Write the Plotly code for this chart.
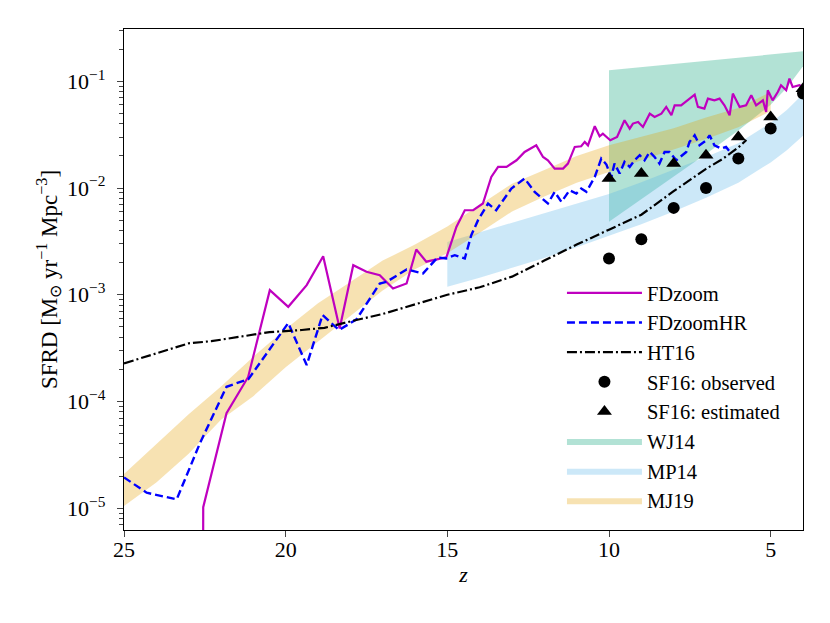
import numpy as np
import plotly.graph_objects as go

# all SFRD values below are log10(SFRD / Msun yr^-1 Mpc^-3)

# FDzoom simulation
fdzoom_z = [22.56, 22.55, 21.83, 21.16, 20.49, 19.92, 19.35, 18.84, 18.33, 17.91,
            17.5, 17.09, 16.68, 16.26, 15.96, 15.65, 15.03, 14.72, 14.46, 14.2,
            13.9, 13.64, 13.43, 13.17, 12.86, 12.61, 12.25, 12.04, 11.89, 11.68,
            11.42, 11.27, 11.06, 10.86, 10.75, 10.65, 10.44, 10.29, 10.19, 9.96,
            9.75, 9.52, 9.36, 9.26, 9.1, 8.95, 8.74, 8.59, 8.38, 8.23,
            8.07, 7.97, 7.77, 7.56, 7.35, 7.25, 7.05, 6.94, 6.74, 6.58,
            6.43, 6.27, 6.17, 5.96, 5.76, 5.6, 5.45, 5.24, 5.14, 5.09,
            4.94, 4.78, 4.68, 4.52, 4.42, 4.32, 4.11, 4.0]
fdzoom_log = [-7.0, -4.99, -4.11, -3.77, -2.957, -3.113, -2.91, -2.639, -3.316, -2.723,
              -2.785, -2.816, -2.941, -2.894, -2.576, -2.69, -2.65, -2.364, -2.208, -2.208,
              -2.145, -1.896, -1.802, -1.802, -1.74, -1.662, -1.6, -1.709, -1.74, -1.818,
              -1.818, -1.771, -1.615, -1.609, -1.568, -1.6, -1.421, -1.515, -1.49, -1.552,
              -1.521, -1.365, -1.443, -1.396, -1.381, -1.428, -1.303, -1.334, -1.303, -1.24,
              -1.318, -1.225, -1.225, -1.178, -1.125, -1.24, -1.256, -1.162, -1.178, -1.162,
              -1.225, -1.318, -1.115, -1.24, -1.225, -1.131, -1.225, -1.178, -1.287, -1.084,
              -1.178, -1.1, -1.037, -1.084, -0.975, -1.053, -1.037, -1.053]

# FDzoomHR simulation
fdzoomhr_z = [25, 24.3, 23.37, 22.65, 21.83, 21.15, 19.92, 19.35, 18.86, 18.35,
              17.81, 17.09, 16.88, 16.26, 15.75, 15.3, 15.03, 14.77, 14.46, 14.26,
              14.05, 13.74, 13.49, 13.02, 12.61, 12.3, 11.89, 11.68, 11.47, 11.22,
              11.01, 10.86, 10.7, 10.44, 10.24, 10.08, 9.93, 9.83, 9.67, 9.52,
              9.36, 9.21, 9.05, 8.9, 8.74, 8.59, 8.44, 8.28, 8.13, 7.92,
              7.61, 7.51, 7.35, 7.2, 6.99, 6.89, 6.74, 6.53, 6.38, 6.22]
fdzoomhr_log = [-4.711, -4.855, -4.917, -4.39, -3.862, -3.79, -3.265, -3.659, -3.19, -3.331,
                -3.23, -2.895, -2.879, -2.763, -2.80, -2.65, -2.66, -2.629, -2.66, -2.442,
                -2.301, -2.145, -2.208, -2.005, -1.911, -2.036, -2.145, -2.036, -2.13, -2.021,
                -2.051, -2.005, -2.036, -1.896, -1.724, -1.78, -1.90, -1.771, -1.864, -1.755,
                -1.802, -1.74, -1.693, -1.74, -1.662, -1.709, -1.771, -1.662, -1.662, -1.74,
                -1.662, -1.568, -1.506, -1.599, -1.552, -1.506, -1.599, -1.63, -1.615, -1.677]

# HT16
ht16_z = [25, 24, 23, 22.3, 21.5, 20.5, 19.5, 18.8, 18, 17,
          16, 15, 14, 13, 12, 11, 10, 9, 8, 7,
          6.5, 6, 5.75]
ht16_log = [-3.643, -3.55, -3.455, -3.435, -3.40, -3.35, -3.33, -3.31, -3.25, -3.18,
            -3.09, -3.0, -2.93, -2.83, -2.68, -2.53, -2.39, -2.25, -2.03, -1.82,
            -1.73, -1.62, -1.55]

# SF16 observed / estimated
sf16_z = [10, 9, 8, 7, 6, 5, 4]
sf16_obs_log = [-2.66, -2.479, -2.186, -1.999, -1.724, -1.443, -1.115]
sf16_est_log = [-1.911, -1.864, -1.771, -1.693, -1.521, -1.334, -1.07]

# WJ14 band
wj14_z = [10, 9, 8, 7, 6, 5, 4.5, 4]
wj14_hi = [-0.897, -0.867, -0.838, -0.808, -0.778, -0.748, -0.733, -0.719]
wj14_lo = [-2.317, -2.10, -1.89, -1.68, -1.46, -1.22, -1.06, -0.86]

# MP14 band
mp14_z = [15, 14, 13, 12, 11, 10, 9, 8, 7, 6, 5, 4.5, 4]
mp14_hi = [-2.505, -2.415, -2.325, -2.24, -2.15, -2.055, -1.945, -1.83, -1.71, -1.58, -1.39, -1.27, -1.12]
mp14_lo = [-2.926, -2.84, -2.75, -2.655, -2.555, -2.45, -2.34, -2.22, -2.09, -1.95, -1.76, -1.645, -1.51]

# MJ19 band
mj19_z = [25, 24, 23, 22, 21, 20, 19, 18, 17, 16, 15, 14, 13, 12, 11, 10, 9, 8, 7, 6, 5]
mj19_hi = [-4.68, -4.40, -4.12, -3.86, -3.58, -3.32, -3.08, -2.88, -2.68, -2.53, -2.36,
           -2.16, -1.96, -1.83, -1.70, -1.60, -1.52, -1.44, -1.34, -1.25, -1.10]
mj19_lo = [-4.98, -4.76, -4.49, -4.17, -3.95, -3.68, -3.44, -3.20, -2.96, -2.76, -2.61,
           -2.42, -2.22, -2.08, -1.95, -1.85, -1.74, -1.64, -1.54, -1.43, -1.28]

ytick_vals = [1e-5, 1e-4, 1e-3, 1e-2, 1e-1]
ytick_text = ["10<sup>\u22125</sup>", "10<sup>\u22124</sup>", "10<sup>\u22123</sup>",
              "10<sup>\u22122</sup>", "10<sup>\u22121</sup>"]
xtick_vals = [25, 20, 15, 10, 5]

FONT = "Liberation Serif"


def lin(v):
    return np.power(10.0, np.array(v))


fig = go.Figure()


def add_band(z, hi, lo, color, name, rank):
    fig.add_trace(go.Scatter(
        x=list(z) + list(z)[::-1],
        y=list(lin(hi)) + list(lin(lo))[::-1],
        fill="toself", fillcolor=color, mode="lines", line=dict(width=0),
        name=name, legendrank=rank, legendgroup=name, hoverinfo="skip"))


add_band(wj14_z, wj14_hi, wj14_lo, "rgba(0,158,115,0.3)", "WJ14", 6)
add_band(mp14_z, mp14_hi, mp14_lo, "rgba(86,180,233,0.3)", "MP14", 7)
add_band(mj19_z, mj19_hi, mj19_lo, "rgba(230,159,0,0.3)", "MJ19", 8)

fig.add_trace(go.Scatter(x=fdzoom_z, y=lin(fdzoom_log), mode="lines", name="FDzoom",
                         line=dict(color="#bf00bf", width=2.2), legendrank=1, legendgroup="a"))
fig.add_trace(go.Scatter(x=fdzoomhr_z, y=lin(fdzoomhr_log), mode="lines", name="FDzoomHR",
                         line=dict(color="#0000ff", width=2.4, dash="8px,4px"),
                         legendrank=2, legendgroup="b"))
fig.add_trace(go.Scatter(x=ht16_z, y=lin(ht16_log), mode="lines", name="HT16",
                         line=dict(color="black", width=2.2, dash="10px,3px,2px,3px"),
                         legendrank=3, legendgroup="c"))
fig.add_trace(go.Scatter(x=sf16_z, y=lin(sf16_obs_log), mode="markers", name="SF16: observed",
                         marker=dict(color="black", size=12, symbol="circle"),
                         legendrank=4, legendgroup="d"))
fig.add_trace(go.Scatter(x=sf16_z, y=lin(sf16_est_log), mode="markers", name="SF16: estimated",
                         marker=dict(color="black", size=13, symbol="triangle-up"),
                         legendrank=5, legendgroup="e"))

minor_vals = [m * 10.0 ** e for e in range(-6, 0) for m in range(2, 10)]

fig.update_xaxes(
    range=[25, 4], tickvals=xtick_vals, ticks="outside", ticklen=6, tickwidth=1,
    ticklabelstandoff=-7,
    showline=True, linecolor="black", linewidth=1.2, mirror=True,
    showgrid=False, zeroline=False,
    tickfont=dict(family=FONT, size=22, color="black"),
    title=dict(text="<i>z</i>", font=dict(family=FONT, size=22, color="black"), standoff=6))

fig.update_yaxes(
    type="log", range=[-5.204, -0.51], tickvals=ytick_vals, ticktext=ytick_text,
    ticks="outside", ticklen=6, tickwidth=1, ticklabelstandoff=7,
    minor=dict(tickvals=minor_vals, ticks="outside", ticklen=3.5, tickwidth=0.8,
               showgrid=False),
    showline=True, linecolor="black", linewidth=1.2, mirror=True,
    showgrid=False, zeroline=False,
    tickfont=dict(family=FONT, size=22, color="black"),
    title=dict(text="SFRD [M<sub>\u2299</sub> yr<sup>\u22121</sup> Mpc<sup>\u22123</sup>]",
               font=dict(family=FONT, size=23, color="black"), standoff=3))

# the page puts the figure 8px in from the top-left corner
fig.update_layout(
    width=830, height=623,
    margin=dict(l=116, r=35, t=21, b=101),
    paper_bgcolor="white", plot_bgcolor="white",
    showlegend=True,
    legend=dict(x=0.645, y=0.513, xanchor="left", yanchor="top",
                bgcolor="rgba(0,0,0,0)", borderwidth=0, itemwidth=75,
                tracegroupgap=0, traceorder="grouped",
                font=dict(family=FONT, size=20.5, color="black")),
)

fig.write_html("out.html")
